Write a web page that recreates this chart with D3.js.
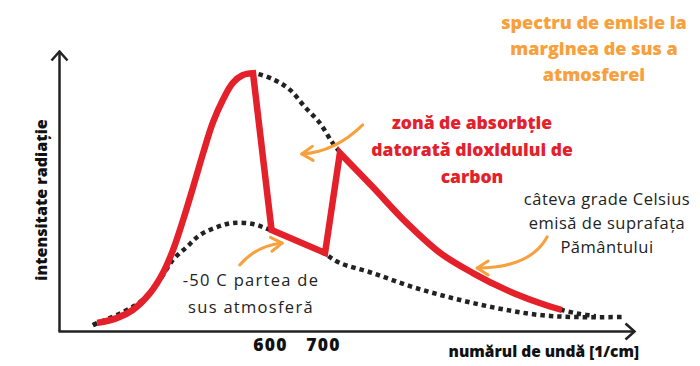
<!DOCTYPE html>
<html>
<head>
<meta charset="utf-8">
<script src="https://cdn.jsdelivr.net/npm/d3@7"></script>
<style>
  body { margin: 0; background: #fff; }
  svg { display: block; font-family: "Open Sans", Lato, sans-serif; }
</style>
</head>
<body>
<div id="chart"></div>
<script>
// wavenumber [1/cm] and relative intensity
var surfaceWave = [266, 274, 311, 341, 374, 398, 417, 436, 455, 474, 492, 511, 530, 549, 568, 609, 638, 666, 694, 717, 732, 794, 858, 921, 983, 1047, 1109, 1151, 1185, 1215];
var surfaceVal  = [2.1, 2.9, 4.6, 7.5, 13.6, 20.7, 28.9, 39.6, 51.4, 63.6, 74.3, 82.5, 88.6, 91.4, 92.1, 89.6, 86.1, 80.0, 74.3, 67.5, 63.9, 51.4, 38.6, 27.9, 20.7, 14.6, 10.0, 7.5, 6.1, 5.3];

var topAtmWave = [266, 323, 360, 392, 417, 443, 468, 500, 530, 568, 600, 657, 700, 732, 794, 858, 921, 983, 1047, 1109, 1172, 1270];
var topAtmVal  = [2.1, 6.8, 11.1, 18.2, 25.4, 30.0, 34.3, 37.1, 38.6, 38.2, 36.1, 31.8, 27.9, 24.3, 20.7, 16.4, 12.9, 10.0, 7.5, 5.7, 5.0, 5.0];

var measuredWave = [274, 311, 341, 374, 398, 417, 436, 455, 474, 492, 511, 530, 549, 568, 603, 704, 732, 794, 858, 921, 983, 1047, 1109, 1151];
var measuredVal  = [2.9, 4.6, 7.5, 13.6, 20.7, 28.9, 39.6, 51.4, 63.6, 74.3, 82.5, 88.6, 91.4, 92.1, 36.1, 27.9, 63.6, 51.4, 38.6, 27.9, 20.7, 14.6, 10.0, 7.5];
// the absorption band is drawn with straight edges between these
var bandEdges = [568, 732];

var tickLabels = [600, 700];

var width = 700, height = 366;
var orange = "#f8a03c", red = "#e4202a", ink = "#222";

var svg = d3.select("#chart").append("svg")
  .attr("width", width)
  .attr("height", height);

var x = d3.scaleLinear().domain([200, 1287]).range([58, 634]);
var y = d3.scaleLinear().domain([0, 100]).range([331, 51]);

var defs = svg.append("defs");
defs.append("marker")
  .attr("id", "axisArrow")
  .attr("markerUnits", "userSpaceOnUse")
  .attr("viewBox", "-12 -10 14 20")
  .attr("markerWidth", 14).attr("markerHeight", 20)
  .attr("refX", 0).attr("refY", 0)
  .attr("orient", "auto")
  .append("path")
    .attr("d", "M-9,-8L0,0L-9,8")
    .attr("fill", "none").attr("stroke", ink).attr("stroke-width", 2.5);
defs.append("marker")
  .attr("id", "noteArrow")
  .attr("markerUnits", "userSpaceOnUse")
  .attr("viewBox", "-14 -10 16 20")
  .attr("markerWidth", 16).attr("markerHeight", 20)
  .attr("refX", 0).attr("refY", 0)
  .attr("orient", "auto")
  .append("path")
    .attr("d", "M-11,-7L0,0L-11,7")
    .attr("fill", "none").attr("stroke", orange).attr("stroke-width", 3)
    .attr("stroke-linecap", "round").attr("stroke-linejoin", "round");

// axes
var xAxis = svg.append("g")
  .attr("transform", "translate(0," + y(0) + ")")
  .call(d3.axisBottom(x).tickValues(tickLabels).tickSize(0).tickSizeOuter(0).tickPadding(8));
xAxis.select(".domain")
  .attr("stroke", ink).attr("stroke-width", 2.5)
  .attr("marker-end", "url(#axisArrow)");
xAxis.selectAll(".tick text")
  .attr("fill", "#111")
  .style("font-family", "'Open Sans', sans-serif")
  .style("font-size", "17.5px").style("font-weight", 800)
  .style("letter-spacing", "1.2px");

var yAxis = svg.append("g")
  .attr("transform", "translate(" + (x(200) + 1) + ",0)")
  .call(d3.axisLeft(y).tickValues([]).tickSizeOuter(0));
yAxis.select(".domain")
  .attr("stroke", ink).attr("stroke-width", 2.5)
  .attr("marker-end", "url(#axisArrow)");

svg.append("text")
  .attr("transform", "translate(47,200) rotate(-90)")
  .attr("text-anchor", "middle")
  .style("font-size", "16px").style("font-weight", 800).attr("fill", "#111")
  .text("intensitate radiație");

svg.append("text")
  .attr("x", 639).attr("y", 357)
  .attr("text-anchor", "end")
  .style("font-size", "15.5px").style("font-weight", 800).attr("fill", "#111")
  .text("numărul de undă [1/cm]");

// curves
var smooth = d3.line()
  .x(function(d) { return x(d[0]); })
  .y(function(d) { return y(d[1]); })
  .curve(d3.curveCatmullRom.alpha(0.5));
var straight = d3.line()
  .x(function(d) { return x(d[0]); })
  .y(function(d) { return y(d[1]); });

var surface = d3.zip(surfaceWave, surfaceVal);
var topAtm = d3.zip(topAtmWave, topAtmVal);
var measured = d3.zip(measuredWave, measuredVal);

svg.append("path")
  .attr("d", smooth(topAtm))
  .attr("fill", "none").attr("stroke", ink)
  .attr("stroke-width", 4.5).attr("stroke-dasharray", "4.5 4");

svg.append("path")
  .attr("d", smooth(surface))
  .attr("fill", "none").attr("stroke", ink)
  .attr("stroke-width", 4.5).attr("stroke-dasharray", "4.5 4");

var rise = measured.filter(function(d) { return d[0] <= bandEdges[0]; });
var band = measured.filter(function(d) { return d[0] >= bandEdges[0] && d[0] <= bandEdges[1]; });
var fall = measured.filter(function(d) { return d[0] >= bandEdges[1]; });

svg.append("path")
  .attr("d", smooth(rise) + straight(band).replace(/^M/, "L") + smooth(fall).replace(/^M/, "L"))
  .attr("fill", "none").attr("stroke", red)
  .attr("stroke-width", 6.5).attr("stroke-linejoin", "miter");

// annotation arrows, in data units: start, bend, tip
var notes = [
  [[775, 73.6], [723, 63.9], [660, 63.2]],
  [[543, 23.6], [574, 30.4], [623, 31.4]],
  [[1123, 33.6], [1091, 22.5], [991, 22.5]]
];
svg.selectAll(".note")
  .data(notes)
  .enter()
  .append("path")
    .attr("class", "note")
    .attr("d", function(d) {
      return "M" + x(d[0][0]) + "," + y(d[0][1]) +
             "Q" + x(d[1][0]) + "," + y(d[1][1]) + " " + x(d[2][0]) + "," + y(d[2][1]);
    })
    .attr("fill", "none").attr("stroke", orange).attr("stroke-width", 3)
    .attr("stroke-linecap", "round")
    .attr("marker-end", "url(#noteArrow)");

// labels
function block(lines, cx, y0, step, size, weight, color, spacing) {
  svg.append("g").selectAll("text")
    .data(lines)
    .enter()
    .append("text")
      .attr("x", cx)
      .attr("y", function(d, i) { return y0 + i * step; })
      .attr("text-anchor", "middle")
      .attr("fill", color)
      .style("font-size", size + "px")
      .style("font-weight", weight)
      .style("letter-spacing", (spacing || 0) + "px")
      .text(function(d) { return d; });
}

block(["spectru de emisie la", "marginea de sus a", "atmosferei"], 594, 29, 26, 18, 800, orange);
block(["zonă de absorbție", "datorată dioxidului de", "carbon"], 472, 129, 27, 17.5, 800, red);
block(["câteva grade Celsius", "emisă de suprafața", "Pământului"], 607, 205, 24, 16.5, 400, "#222", 0.5);
block(["-50 C partea de", "sus atmosferă"], 251, 286, 27, 16.5, 400, "#222", 1.3);
</script>
</body>
</html>
